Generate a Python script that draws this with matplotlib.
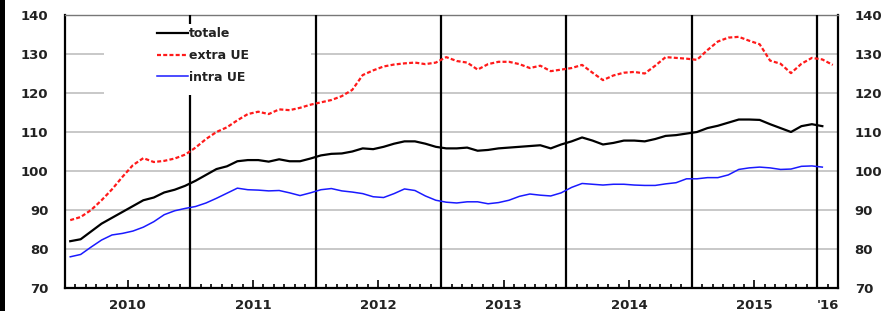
import numpy as np
import matplotlib.pyplot as plt
from matplotlib.patches import Rectangle

plt.rcParams['font.family'] = 'DejaVu Sans'

# monthly index values, Jan 2010 onwards
totale = [82, 82.5, 84.5, 86.5, 88, 89.5, 91, 92.5, 93.2, 94.5, 95.2, 96.2,
          97.5, 99, 100.5, 101.2, 102.5, 102.8, 102.8, 102.4, 103, 102.5, 102.5, 103.2,
          104, 104.4, 104.5, 105, 105.8, 105.6, 106.2, 107, 107.6, 107.6, 107, 106.2,
          105.8, 105.8, 106, 105.2, 105.4, 105.8, 106, 106.2, 106.4, 106.6, 105.8, 106.8,
          107.6, 108.6, 107.8, 106.8, 107.2, 107.8, 107.8, 107.6, 108.2, 109, 109.2, 109.6,
          110, 111, 111.6, 112.4, 113.2, 113.2, 113.1, 112, 111, 110, 111.5, 112,
          111.5]
extra_ue = [87.4, 88.2, 90, 92.5, 95.3, 98.5, 101.5, 103.3, 102.3, 102.6, 103.2, 104.2,
            106, 108.2, 110, 111.2, 113, 114.6, 115.2, 114.6, 115.8, 115.6, 116.2, 117,
            117.6, 118.2, 119.2, 120.8, 124.6, 125.8, 126.8, 127.3, 127.6, 127.8, 127.4, 127.8,
            129.2, 128.2, 127.8, 126, 127.4, 128, 128, 127.4, 126.4, 127, 125.6, 126,
            126.4, 127.2, 125.2, 123.3, 124.5, 125.2, 125.4, 125, 127, 129.2, 129, 128.8,
            128.5, 131, 133.2, 134.2, 134.4, 133.4, 132.5, 128.3, 127.5, 125.1, 127.5, 129,
            128.6, 127.2]
intra_ue = [78, 78.6, 80.5, 82.3, 83.6, 84, 84.6, 85.6, 87, 88.8, 89.8, 90.4,
            90.9, 91.8, 93, 94.3, 95.6, 95.2, 95.1, 94.9, 95, 94.4, 93.7, 94.4,
            95.2, 95.5, 94.9, 94.6, 94.2, 93.4, 93.2, 94.2, 95.4, 95, 93.6, 92.5,
            92, 91.8, 92.1, 92.1, 91.6, 91.9, 92.5, 93.5, 94.1, 93.8, 93.6, 94.4,
            95.8, 96.8, 96.6, 96.4, 96.6, 96.6, 96.4, 96.3, 96.3, 96.7, 97, 98,
            98, 98.3, 98.3, 99, 100.4, 100.8, 101, 100.8, 100.4, 100.5, 101.2, 101.3,
            101]
year_labels = ['2010', '2011', '2012', '2013', '2014', '2015', "'16"]
year_pos = [6, 18, 30, 42, 54, 66, 73]

txt = '#222222'

fig = plt.figure(figsize=(8.89, 3.11), dpi=100)
ax = fig.add_axes([65 / 889, 23 / 311, 773 / 889, 273 / 311])

ax.plot(np.arange(len(totale)) + 0.5, totale, color='black', lw=1.6,
        label='totale', zorder=4)
ax.plot(np.arange(len(extra_ue)) + 0.5, extra_ue, color='#ff1a1a', lw=1.6,
        ls=(0, (1.8, 1)), label='extra UE', zorder=4)
ax.plot(np.arange(len(intra_ue)) + 0.5, intra_ue, color='#1a1aff', lw=1.1,
        label='intra UE', zorder=4)

# year separators
for b in range(12, 73, 12):
    ax.axvline(b, color='black', lw=1.6, zorder=3)

ax.set_xlim(0, 74)
ax.set_ylim(70, 140)
ax.set_yticks(range(70, 141, 10))
ax.grid(axis='y', color='#c8c8c8', lw=1.4)

ax.set_xticks(np.arange(0, 75), minor=True)
ax.set_xticks(year_pos)
ax.set_xticklabels(year_labels, fontweight='bold')
ax.set_yticks(range(70, 141, 10))
for lab in ax.get_yticklabels():
    lab.set_fontweight('bold')
ax.tick_params(axis='x', which='major', direction='in', length=6, width=1.2,
               pad=8, labelsize=9.5, labelcolor=txt)
ax.tick_params(axis='x', which='minor', direction='in', length=3, width=1.2)
ax.xaxis.get_major_ticks()[-1].tick1line.set_markersize(3)
ax.tick_params(axis='y', length=0, pad=12, labelsize=9.5, labelcolor=txt,
               labelright=True)
for lab in ax.get_yticklabels(which='both') + ax.yaxis.get_ticklabels():
    lab.set_fontweight('bold')
for t in ax.yaxis.get_major_ticks():
    t.label2.set_fontweight('bold')

for s in ['left', 'right', 'bottom']:
    ax.spines[s].set_linewidth(1.6)
ax.spines['top'].set_color('#777777')
ax.spines['top'].set_linewidth(1.0)

# white area behind the legend
ax.add_patch(Rectangle((0.05, 0.707), 0.268, 0.26, transform=ax.transAxes,
                       facecolor='white', edgecolor='none', zorder=3.5))
leg = ax.legend(loc='upper left', bbox_to_anchor=(0.119, 0.955), frameon=False,
                handlelength=2.5, handletextpad=0.05, labelspacing=0.7,
                borderpad=0, borderaxespad=0,
                prop={'size': 9, 'weight': 'bold'})
leg.set_zorder(5)
for t in leg.get_texts():
    t.set_color(txt)

fig.patches.append(Rectangle((0, 0), 5 / 889, 1, transform=fig.transFigure,
                             facecolor='black', edgecolor='none'))

fig.savefig('out.png', dpi=100)
